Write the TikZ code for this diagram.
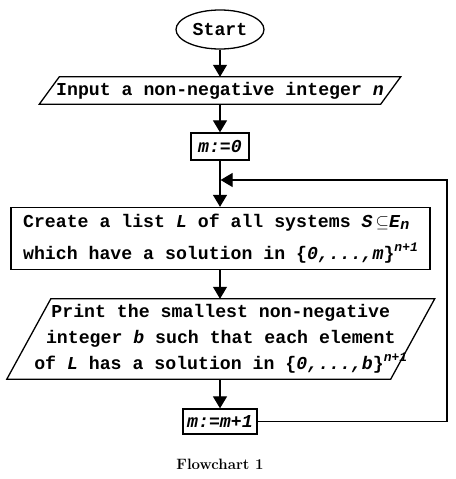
\documentclass[tikz,border=0pt]{standalone}
\usepackage{fontspec}
\setmonofont{Liberation Mono}
\usetikzlibrary{shapes.geometric,arrows.meta}
\begin{document}
\begin{tikzpicture}[x=1pt,y=-1pt,
  every node/.style={font=\ttfamily\bfseries\fontsize{18.2}{18}\selectfont, inner sep=0pt},
  arr/.style={line width=1.2pt,-{Triangle[length=12pt,width=14pt]}},
  box/.style={draw,line width=1.3pt,rectangle},
  para/.style={line width=1.3pt}]
\useasboundingbox (0,0) rectangle (455,479);
\newcommand{\mysup}[1]{\raisebox{8pt}{\fontsize{13}{13}\selectfont\itshape #1}}
% nodes
\node[ellipse,draw,line width=1.3pt,minimum width=88pt,minimum height=39pt] (start) at (220,29.5) {Start};
\node[minimum width=341pt,minimum height=27pt] (input) at (220,90.5) {Input a non-negative integer \textit{n}};
\draw[para] ([xshift=10pt]input.north west) -- ([xshift=10pt]input.north east) -- ([xshift=-10pt]input.south east) -- ([xshift=-10pt]input.south west) -- cycle;
\node[box,minimum width=58pt,minimum height=27pt] (m0) at (220,146.5) {\textit{m:=0}};
\node[box,minimum width=419pt,minimum height=62pt,align=left,font=\ttfamily\bfseries\fontsize{18.2}{32}\selectfont] (create) at (220.5,238.5)
  {Create a list \textit{L} of all systems \textit{S}\,$\subseteq$\textit{E}\raisebox{-2pt}{\fontsize{15}{15}\selectfont\itshape n}\\
   which have a solution in \{\textit{0,...,m}\}\mysup{n+1}};
\node[minimum width=383.5pt,minimum height=80pt,align=center,font=\ttfamily\bfseries\fontsize{18.2}{26}\selectfont] (print) at (220.75,339)
  {Print the smallest non-negative\\
   integer \textit{b} such that each element\\
   of \textit{L} has a solution in \{\textit{0,...,b}\}\mysup{n+1}};
\draw[para] ([xshift=22pt]print.north west) -- ([xshift=22pt]print.north east) -- ([xshift=-22pt]print.south east) -- ([xshift=-22pt]print.south west) -- cycle;
\node[box,minimum width=74pt,minimum height=25pt] (mm1) at (220,421.5) {\textit{m:=m+1}};
\node[font=\rmfamily\bfseries\fontsize{15}{15}\selectfont] (cap) at (220,464) {Flowchart 1};
% connectors
\coordinate (corner) at (447,180);
\coordinate (join) at (220.6,180);
\draw[arr] (start.south) -- (input.north);
\draw[arr] (input.south) -- (m0.north);
\draw[arr] (m0.south) -- (m0.south |- create.north);
\draw[arr] (create.south -| m0.south) -- (m0.south |- print.north);
\draw[arr] (print.south -| mm1.north) -- (mm1.north);
\draw[arr] (mm1.east) -| (corner) -- (join);
\end{tikzpicture}
\end{document}
